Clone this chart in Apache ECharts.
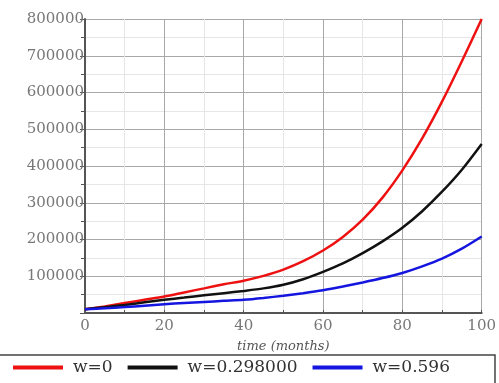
<!DOCTYPE html>
<html>
<head>
<meta charset="utf-8">
<script src="https://cdn.jsdelivr.net/npm/echarts@6/dist/echarts.min.js"></script>
<style>
  html, body { margin: 0; padding: 0; background: #fff; }
  #main { width: 499px; height: 383px; }
</style>
</head>
<body>
<div id="main"></div>
<script>
// time in months
var months = [0, 5, 10, 15, 20, 25, 30, 35, 40, 45, 50, 55, 60, 65, 70, 75, 80, 85, 90, 95, 100];
// values
var w0   = [10000, 18000, 27000, 36000, 45000, 56000, 67000, 78000, 88000, 101000, 118000,
            141000, 170000, 207000, 254000, 314000, 388000, 475000, 575000, 685000, 800000];
var w298 = [10000, 16000, 22000, 29000, 36000, 42000, 48000, 54000, 60000, 67000, 77000,
            92000, 112000, 135000, 163000, 195000, 232000, 277000, 330000, 390000, 460000];
var w596 = [10000, 13000, 16000, 20000, 24000, 27000, 30000, 33000, 36000, 41000, 47000,
            54000, 62000, 72000, 83000, 95000, 109000, 127000, 148000, 175000, 208000];
var seriesNames = ['w=0', 'w=0.298000', 'w=0.596'];
var seriesColors = ['#ee1111', '#111111', '#1515e0'];

function pairs(ys) {
  return months.map(function (m, i) { return [m, ys[i]]; });
}

var chart = echarts.init(document.getElementById('main'));
var font = 'DejaVu Serif';

var option = {
  backgroundColor: '#fff',
  animation: false,
  grid: { left: 85, right: 17, top: 19, bottom: 70 },
  xAxis: {
    type: 'value',
    min: 0, max: 100, interval: 20,
    name: 'time (months)',
    nameLocation: 'middle',
    nameGap: 27,
    nameTextStyle: { fontFamily: font, fontStyle: 'italic', fontSize: 13, color: '#555' },
    axisLine: { lineStyle: { color: '#555', width: 2 } },
    axisTick: { show: true, inside: true, length: 3, lineStyle: { color: '#555' } },
    minorTick: { show: true, splitNumber: 2, length: 3, lineStyle: { color: '#555' } },
    axisLabel: { fontFamily: font, fontSize: 15, color: '#777', margin: 6 },
    splitLine: { show: true, lineStyle: { color: '#a8a8a8', width: 1 } },
    minorSplitLine: { show: true, lineStyle: { color: '#e6e6e6', width: 1 } }
  },
  yAxis: {
    type: 'value',
    min: 0, max: 800000, interval: 100000,
    axisLine: { show: true, lineStyle: { color: '#555', width: 2 } },
    axisTick: { show: true, length: 5, lineStyle: { color: '#555' } },
    minorTick: { show: true, splitNumber: 2, length: 4, lineStyle: { color: '#555' } },
    axisLabel: {
      fontFamily: font, fontSize: 15, color: '#777', margin: 1,
      formatter: function (v) { return v === 0 ? '' : String(v); }
    },
    splitLine: { show: true, lineStyle: { color: '#a8a8a8', width: 1 } },
    minorSplitLine: { show: true, lineStyle: { color: '#e6e6e6', width: 1 } }
  },
  legend: {
    left: 13,
    top: 359,
    padding: 0,
    itemGap: 15,
    itemWidth: 50,
    itemHeight: 4,
    icon: 'rect',
    textStyle: { fontFamily: font, fontSize: 17, color: '#333', padding: [0, 0, 0, 5] },
    data: seriesNames
  },
  graphic: [{
    type: 'rect',
    shape: { x: -5, y: 355, width: 500, height: 40 },
    style: { fill: 'none', stroke: '#444', lineWidth: 1.5 },
    z: 100
  }],
  series: [w0, w298, w596].map(function (ys, i) {
    return {
      name: seriesNames[i],
      type: 'line',
      data: pairs(ys),
      smooth: 0.3,
      symbol: 'none',
      lineStyle: { color: seriesColors[i], width: 2.5 },
      itemStyle: { color: seriesColors[i] }
    };
  })
};

chart.setOption(option);
</script>
</body>
</html>
